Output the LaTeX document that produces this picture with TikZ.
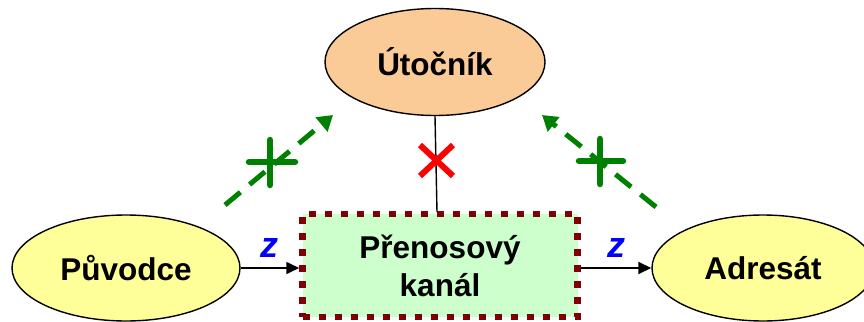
\documentclass[tikz,border=0pt]{standalone}
\usepackage{fontspec}
\setmainfont{Liberation Sans}
\usetikzlibrary{shapes.geometric,arrows.meta}
\definecolor{peach}{HTML}{FBCB97}
\definecolor{lyellow}{HTML}{FFFF99}
\definecolor{lgreen}{HTML}{CCFFCC}
\definecolor{dred}{HTML}{7F0000}
\definecolor{dgreen}{HTML}{008000}
\tikzset{
  ell/.style={ellipse, draw=black, line width=1.4pt, font=\bfseries\fontsize{31.5}{36}\selectfont, inner sep=0pt},
  conn/.style={line width=1.6pt, -{Triangle[length=13pt,width=12pt]}},
  zlabel/.style={text=blue, font=\bfseries\itshape\fontsize{36}{40}\selectfont, inner sep=0pt},
  atk/.style={draw=dgreen, line width=5pt, dash pattern=on 20pt off 12pt, -{Triangle[length=15pt,width=18pt]}},
  plus/.style={draw=dgreen, line width=6.5pt, line cap=round},
  xmark/.style={draw=red, line width=6pt}
}
\begin{document}
\begin{tikzpicture}[x=1pt,y=-1pt]
\useasboundingbox (0,0) rectangle (864,321);
\node[ell, fill=peach, minimum width=220pt, minimum height=107pt] (u) at (435,62) {Útočník};
\node[ell, fill=lyellow, minimum width=228pt, minimum height=106pt] (p) at (126,268) {Původce};
\node[ell, fill=lyellow, minimum width=222pt, minimum height=106pt] (a) at (763,268) {Adresát};
\node[draw=dred, fill=lgreen, line width=6.5pt, dash pattern=on 7pt off 9pt, minimum width=275pt, minimum height=103pt, align=center, font=\bfseries\fontsize{31.5}{38}\selectfont] (k) at (440,265.5) {Přenosový\\kanál};
\draw[conn] (p.east) -- (k.west |- p.east) node[midway, above=10pt, zlabel] (z1) {z};
\draw[conn] (k.east |- a.west) -- (a.west) node[midway, above=10pt, zlabel] (z2) {z};
\coordinate (kt) at (437,212);
\draw[line width=1.4pt] (u.south) -- (kt);
\draw[xmark] (420,145) -- (453,176) (453,145) -- (420,176);
\coordinate (ls) at (225,205);
\coordinate (le) at (333,115);
\coordinate (rs) at (656,207);
\coordinate (re) at (542,115);
\draw[atk] (ls) -- (le);
\draw[atk] (rs) -- (re);
\draw[plus] (270,140) -- (270,185) (249,162) -- (295,162);
\draw[plus] (600,139) -- (600,184) (579,161) -- (623,161);
\end{tikzpicture}
\end{document}
